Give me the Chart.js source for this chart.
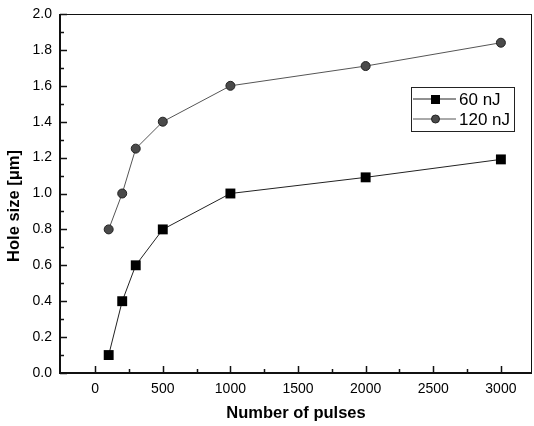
<!DOCTYPE html>
<html lang="en">
<head>
    <meta charset="UTF-8">
    <title>Hole size vs number of pulses</title>
    <script src="https://cdn.jsdelivr.net/npm/chart.js"></script>
    <style>
        body { margin: 0; background: #fff; }
        canvas { display: block; }
    </style>
</head>
<body>
    <canvas id="holeChart" width="534" height="426"></canvas>

    <script>
        // data
        const pulses = [100, 200, 300, 500, 1000, 2000, 3000];
        const size60 = [0.10, 0.40, 0.60, 0.80, 1.00, 1.09, 1.19];
        const size120 = [0.80, 1.00, 1.25, 1.40, 1.60, 1.71, 1.84];
        const seriesNames = ["60 nJ", "120 nJ"];
        const xTicks = [0, 500, 1000, 1500, 2000, 2500, 3000];
        const xMinor = [250, 750, 1250, 1750, 2250, 2750];
        const yTicks = [0, 0.2, 0.4, 0.6, 0.8, 1.0, 1.2, 1.4, 1.6, 1.8, 2.0];
        const yMinor = [0.1, 0.3, 0.5, 0.7, 0.9, 1.1, 1.3, 1.5, 1.7, 1.9];

        const font = "'Liberation Sans', Arial, sans-serif";

        function points(ys) {
            return pulses.map((x, i) => ({ x: x, y: ys[i] }));
        }

        // keep the plot box where the figure has it: no extra room for end labels
        function noEdgePadding(scale) {
            scale.paddingLeft = 0;
            scale.paddingRight = 0;
            scale.paddingTop = 0;
            scale.paddingBottom = 0;
        }

        // inward ticks, frame, axis titles and the boxed legend
        const framePlugin = {
            id: "frame",
            afterDraw(chart) {
                const c = chart.ctx;
                const a = chart.chartArea;
                const xs = chart.scales.x, ys = chart.scales.y;
                c.save();
                c.strokeStyle = "#111";
                c.lineWidth = 1;
                c.strokeRect(a.left + 0.5, a.top + 0.5, a.right - a.left - 1, a.bottom - a.top);
                c.lineWidth = 2;
                c.beginPath();
                c.moveTo(a.left, a.top);
                c.lineTo(a.left, a.bottom);
                c.lineTo(a.right, a.bottom);
                c.stroke();

                c.lineWidth = 1.5;
                c.beginPath();
                xTicks.forEach(v => {
                    const px = Math.round(xs.getPixelForValue(v)) + 0.5;
                    c.moveTo(px, a.bottom); c.lineTo(px, a.bottom - 7);
                });
                xMinor.forEach(v => {
                    const px = Math.round(xs.getPixelForValue(v)) + 0.5;
                    c.moveTo(px, a.bottom); c.lineTo(px, a.bottom - 4);
                });
                yTicks.forEach(v => {
                    const py = Math.round(ys.getPixelForValue(v)) + 0.5;
                    c.moveTo(a.left, py); c.lineTo(a.left + 7, py);
                });
                yMinor.forEach(v => {
                    const py = Math.round(ys.getPixelForValue(v)) + 0.5;
                    c.moveTo(a.left, py); c.lineTo(a.left + 4, py);
                });
                c.stroke();

                // axis titles
                c.fillStyle = "#000";
                c.font = "bold 16.5px " + font;
                c.textAlign = "center";
                c.textBaseline = "middle";
                c.fillText("Number of pulses", (a.left + a.right) / 2, 413);
                c.save();
                c.translate(14, 206);
                c.rotate(-Math.PI / 2);
                c.fillText("Hole size [\u03bcm]", 0, 0);
                c.restore();

                // legend
                const lx = 411, ly = 87, lw = 103, lh = 44;
                c.lineWidth = 1;
                c.strokeStyle = "#222";
                c.strokeRect(lx + 0.5, ly + 0.5, lw, lh);
                c.font = "17px " + font;
                c.textAlign = "left";
                chart.data.datasets.forEach((ds, i) => {
                    const ry = ly + 12 + i * 20;
                    c.strokeStyle = ds.borderColor;
                    c.beginPath();
                    c.moveTo(lx + 2, ry); c.lineTo(lx + 45, ry);
                    c.stroke();
                    c.fillStyle = ds.pointBackgroundColor;
                    c.strokeStyle = ds.pointBorderColor;
                    if (ds.pointStyle === "rect") {
                        c.fillRect(lx + 20, ry - 4, 9, 9);
                    } else {
                        c.beginPath();
                        c.arc(lx + 24.5, ry, 4, 0, Math.PI * 2);
                        c.fill();
                        c.stroke();
                    }
                    c.fillStyle = "#000";
                    c.fillText(ds.label, lx + 48, ry + 1);
                });
                c.restore();
            }
        };

        const ctx = document.getElementById("holeChart").getContext("2d");
        const chart = new Chart(ctx, {
            type: "line",
            data: {
                datasets: [{
                    label: seriesNames[0],
                    data: points(size60),
                    borderColor: "#222",
                    borderWidth: 1,
                    pointStyle: "rect",
                    pointRadius: 7,
                    pointBackgroundColor: "#000",
                    pointBorderColor: "#000",
                    pointBorderWidth: 0,
                    tension: 0
                }, {
                    label: seriesNames[1],
                    data: points(size120),
                    borderColor: "#555",
                    borderWidth: 1,
                    pointStyle: "circle",
                    pointRadius: 4.5,
                    pointBackgroundColor: "#4a4a4a",
                    pointBorderColor: "#222",
                    pointBorderWidth: 1,
                    tension: 0
                }]
            },
            options: {
                responsive: false,
                animation: false,
                layout: {
                    autoPadding: false,
                    padding: { top: 14, right: 2, left: 0, bottom: 0 }
                },
                plugins: {
                    legend: { display: false },
                    tooltip: { enabled: false }
                },
                scales: {
                    x: {
                        type: "linear",
                        min: -260,
                        max: 3230,
                        grid: { display: false, drawTicks: false },
                        border: { display: false },
                        afterBuildTicks(scale) {
                            scale.ticks = xTicks.map(v => ({ value: v }));
                        },
                        afterFit(scale) {
                            scale.height = 53;
                            noEdgePadding(scale);
                        },
                        ticks: {
                            color: "#000",
                            padding: 8,
                            maxRotation: 0,
                            font: { family: font, size: 14 },
                            callback: v => String(v)
                        }
                    },
                    y: {
                        min: 0,
                        max: 2.0,
                        grid: { display: false, drawTicks: false },
                        border: { display: false },
                        afterBuildTicks(scale) {
                            scale.ticks = yTicks.map(v => ({ value: v }));
                        },
                        afterFit(scale) {
                            scale.width = 60;
                            noEdgePadding(scale);
                        },
                        ticks: {
                            color: "#000",
                            padding: 8,
                            font: { family: font, size: 14 },
                            callback: v => v.toFixed(1)
                        }
                    }
                }
            },
            plugins: [framePlugin]
        });
    </script>
</body>
</html>
